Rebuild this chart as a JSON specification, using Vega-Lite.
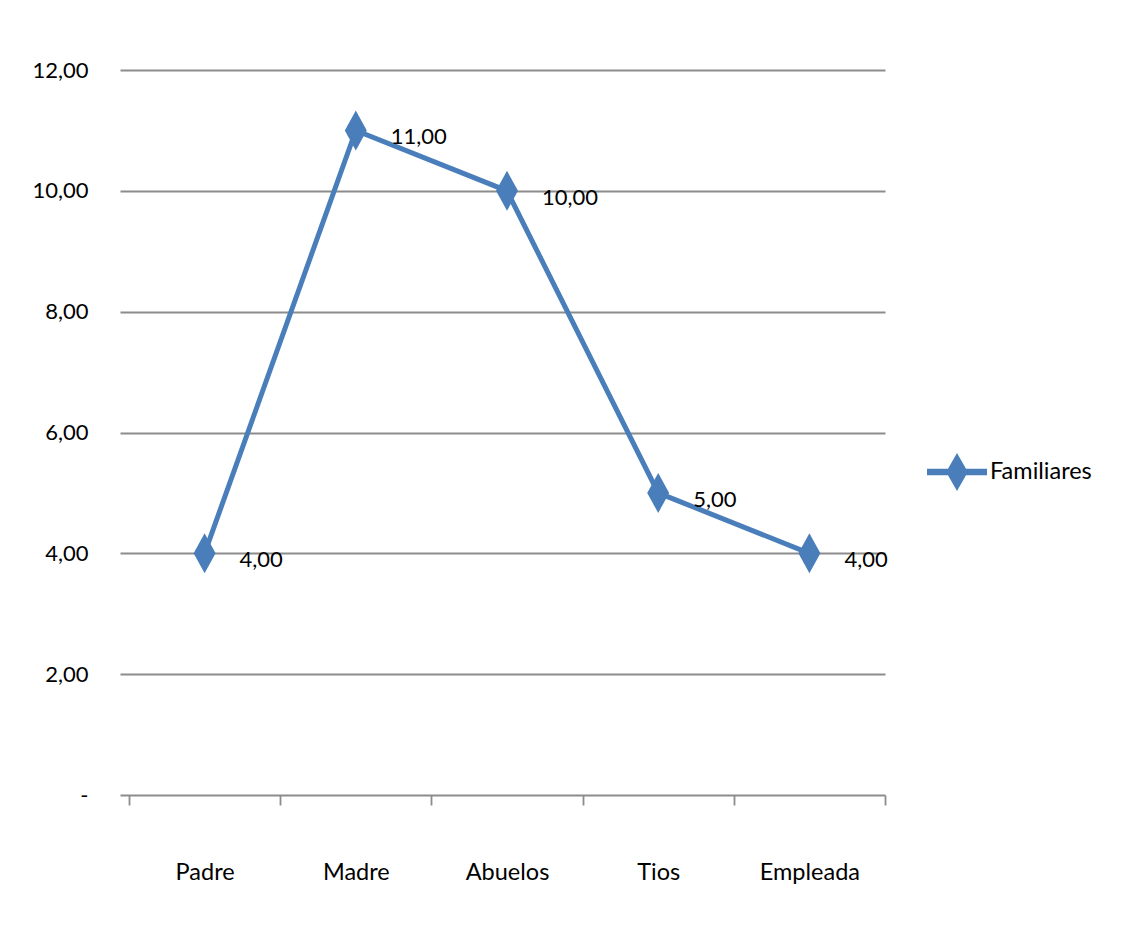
{
  "$schema": "https://vega.github.io/schema/vega-lite/v6.json",
  "autosize": "none",
  "width": 765,
  "height": 725,
  "padding": {"left": 120, "top": 70, "right": 248, "bottom": 137},
  "background": "white",
  "config": {
    "font": "Lato",
    "view": {"stroke": null},
    "locale": {"number": {"decimal": ",", "thousands": ".", "grouping": [3], "currency": ["", " €"]}}
  },
  "data": {
    "values": [
      {"categoria": "Padre", "valor": 4, "serie": "Familiares"},
      {"categoria": "Madre", "valor": 11, "serie": "Familiares"},
      {"categoria": "Abuelos", "valor": 10, "serie": "Familiares"},
      {"categoria": "Tios", "valor": 5, "serie": "Familiares"},
      {"categoria": "Empleada", "valor": 4, "serie": "Familiares"}
    ]
  },
  "encoding": {
    "x": {
      "field": "categoria",
      "type": "nominal",
      "sort": null,
      "scale": {"type": "band", "paddingInner": 0, "paddingOuter": 0.0298, "align": 1},
      "axis": {
        "title": null,
        "domain": false,
        "grid": false,
        "ticks": true,
        "tickBand": "extent",
        "tickColor": "#8c8c8c",
        "tickWidth": 1.8,
        "tickSize": 10,
        "labelAngle": 0,
        "labelFont": "Lato",
        "labelFontSize": 23.5,
        "labelColor": "black",
        "labelBaseline": "middle",
        "labelPadding": 67
      }
    },
    "y": {
      "field": "valor",
      "type": "quantitative",
      "scale": {"domain": [0, 12], "nice": false},
      "axis": {
        "title": null,
        "values": [0, 2, 4, 6, 8, 10, 12],
        "format": ".2f",
        "labelExpr": "datum.value == 0 ? '-\u2002\u2002' : datum.label",
        "domain": false,
        "ticks": false,
        "grid": true,
        "gridColor": "#8c8c8c",
        "gridWidth": 1.8,
        "labelFont": "Lato",
        "labelFontSize": 22,
        "labelColor": "black",
        "labelPadding": 32
      }
    }
  },
  "layer": [
    {
      "mark": {"type": "line", "color": "#4A7EBB", "strokeWidth": 5}
    },
    {
      "mark": {"type": "point", "filled": true, "opacity": 1, "shape": "M0,-1L0.55,0L0,1L-0.55,0Z", "size": 1600},
      "encoding": {
        "color": {
          "field": "serie",
          "type": "nominal",
          "scale": {"domain": ["Familiares"], "range": ["#4A7EBB"]},
          "legend": {
            "title": null,
            "orient": "none",
            "legendX": 807,
            "legendY": 372,
            "padding": 0,
            "symbolType": "M-1,-0.11L-0.3,-0.11L0,-0.63L0.3,-0.11L1,-0.11L1,0.11L0.3,0.11L0,0.63L-0.3,0.11L-1,0.11Z",
            "symbolSize": 3600,
            "symbolStrokeWidth": 0,
            "labelFont": "Lato",
            "labelFontSize": 23.5,
            "labelColor": "black",
            "labelOffset": 3
          }
        }
      }
    },
    {
      "mark": {"type": "text", "align": "left", "baseline": "middle", "dx": 35, "dy": 7, "fontSize": 22, "font": "Lato", "color": "black"},
      "encoding": {
        "text": {"field": "valor", "type": "quantitative", "format": ".2f"}
      }
    }
  ]
}
